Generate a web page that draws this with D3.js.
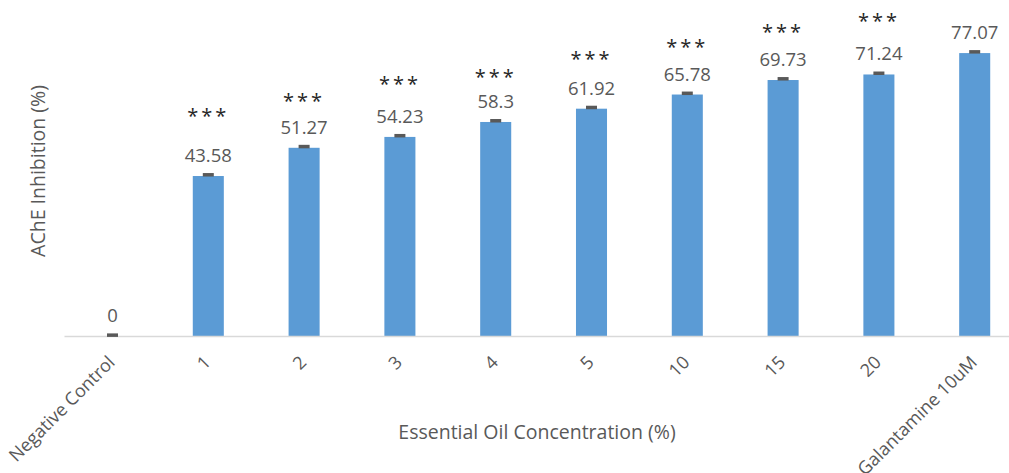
<!DOCTYPE html>
<html>
<head>
<meta charset="utf-8">
<script src="https://cdn.jsdelivr.net/npm/d3@7"></script>
<style>
  html, body { margin: 0; padding: 0; background: #fff; }
  svg { display: block; }
  text { font-family: "Open Sans", "DejaVu Sans", sans-serif; }
</style>
</head>
<body>
<svg id="chart" width="1009" height="473"></svg>
<script>
// Acetylcholinesterase inhibition by essential oil concentration
const categories = ["Negative Control", "1", "2", "3", "4", "5", "10", "15", "20", "Galantamine 10uM"];
const inhibition = [0, 43.58, 51.27, 54.23, 58.3, 61.92, 65.78, 69.73, 71.24, 77.07];
const errors = [0.3, 0.4, 0.4, 0.4, 0.4, 0.4, 0.4, 0.4, 0.4, 0.4];
const significance = ["", "***", "***", "***", "***", "***", "***", "***", "***", ""];
// height (in % units) at which each significance marker is written
const markerLevel = [null, 61.0, 65.1, 69.7, 71.6, 76.5, 79.8, 83.9, 86.9, null];
const xTitle = "Essential Oil Concentration (%)";
const yTitle = "AChE Inhibition (%)";

const svg = d3.select("#chart");
const baseY = 336;

const x = d3.scaleBand()
  .domain(categories)
  .range([64.6, 1022.6])
  .paddingInner(0.676)
  .paddingOuter(0.338);

const y = d3.scaleLinear()
  .domain([0, 90])
  .range([baseY, baseY - 90 * 3.671]);

const rows = categories.map((c, i) => ({
  cat: c, v: inhibition[i], err: errors[i], sig: significance[i], lvl: markerLevel[i]
}));

// bars
svg.append("g").selectAll("rect")
  .data(rows)
  .join("rect")
  .attr("x", d => x(d.cat))
  .attr("width", x.bandwidth())
  .attr("y", d => y(d.v))
  .attr("height", d => y(0) - y(d.v))
  .attr("fill", "#5B9BD5");

// category axis
const xAxis = svg.append("g")
  .attr("transform", `translate(0,${baseY})`)
  .call(d3.axisBottom(x).tickSize(0).tickPadding(0));
xAxis.select(".domain").attr("stroke", "#d9d9d9").attr("stroke-width", 1.3)
  .attr("d", "M64.5,0.5H1009");
xAxis.selectAll(".tick text")
  .attr("fill", "#595959")
  .attr("font-size", 18)
  .attr("text-anchor", "end")
  .attr("dy", "0.35em")
  .attr("transform", "translate(-1,23) rotate(-45)")
  .attr("y", 0)
  .attr("x", 0);

// error bars
const eb = svg.append("g");
eb.selectAll("rect")
  .data(rows)
  .join("rect")
  .attr("x", d => x(d.cat) + x.bandwidth() / 2 - 5.5)
  .attr("width", 11)
  .attr("y", d => y(d.v + d.err) - 1.5)
  .attr("height", d => Math.max(3.5, y(d.v - d.err) - y(d.v + d.err)))
  .attr("fill", "#595959");

// value labels
svg.append("g").selectAll("text")
  .data(rows)
  .join("text")
  .attr("x", d => x(d.cat) + x.bandwidth() / 2)
  .attr("y", d => y(d.v) - 14)
  .attr("text-anchor", "middle")
  .attr("font-size", 18.5)
  .attr("fill", "#595959")
  .text(d => d.v);

// significance markers
svg.append("g").selectAll("text")
  .data(rows.filter(d => d.sig))
  .join("text")
  .attr("x", d => x(d.cat) + x.bandwidth() / 2)
  .attr("y", d => y(d.lvl) + 11)
  .attr("text-anchor", "middle")
  .attr("font-size", 20)
  .attr("letter-spacing", 3)
  .attr("fill", "#262626")
  .text(d => d.sig);

// axis titles
svg.append("text")
  .attr("x", 537)
  .attr("y", 439)
  .attr("text-anchor", "middle")
  .attr("font-size", 19.5)
  .attr("fill", "#595959")
  .text(xTitle);

svg.append("text")
  .attr("transform", "translate(45,171) rotate(-90)")
  .attr("text-anchor", "middle")
  .attr("font-size", 19.5)
  .attr("fill", "#595959")
  .text(yTitle);
</script>
</body>
</html>
